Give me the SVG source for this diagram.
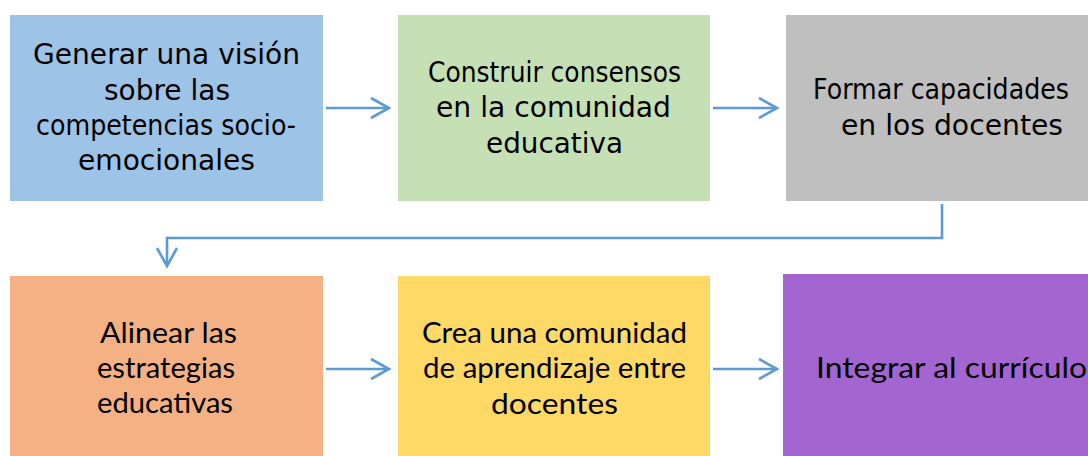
<svg xmlns="http://www.w3.org/2000/svg" width="1088" height="456" viewBox="0 0 1088 456">
<style>
.box{stroke:none}
.t1{font-family:"DejaVu Sans","Noto Sans",sans-serif;font-size:28px;fill:#000;text-anchor:middle}
.t2{font-family:Lato,"Liberation Sans",sans-serif;font-size:29px;fill:#000;text-anchor:middle}
.con{fill:none;stroke:#5B9BD5;stroke-width:2.6}
</style>
<defs>
<marker id="arr" markerUnits="userSpaceOnUse" markerWidth="24" markerHeight="24" viewBox="-20 -12 24 24" refX="0" refY="0" orient="auto" overflow="visible">
<path d="M-18,-10 L0,0 L-18,10" fill="none" stroke="#5B9BD5" stroke-width="2.6"/>
</marker>
</defs>
<rect width="1088" height="456" fill="#fff"/>
<g id="n1">
<rect class="box" x="10" y="15" width="313" height="186" fill="#9DC3E6"/>
<text class="t1"><tspan x="166.5" y="64" textLength="267" lengthAdjust="spacingAndGlyphs">Generar una visión</tspan><tspan x="167" y="100" textLength="126" lengthAdjust="spacingAndGlyphs">sobre las</tspan><tspan x="166" y="135" textLength="260" lengthAdjust="spacingAndGlyphs">competencias socio-</tspan><tspan x="166.5" y="170" textLength="177" lengthAdjust="spacingAndGlyphs">emocionales</tspan></text>
</g>
<g id="n2">
<rect class="box" x="398" y="15" width="312" height="186" fill="#C5E0B4"/>
<text class="t1"><tspan x="554.5" y="82" textLength="253" lengthAdjust="spacingAndGlyphs">Construir consensos</tspan><tspan x="553.5" y="117" textLength="235" lengthAdjust="spacingAndGlyphs">en la comunidad</tspan><tspan x="554.5" y="153" textLength="137" lengthAdjust="spacingAndGlyphs">educativa</tspan></text>
</g>
<g id="n3">
<rect class="box" x="786" y="15" width="302" height="186" fill="#BFBFBF"/>
<text class="t1"><tspan x="941" y="99" textLength="256" lengthAdjust="spacingAndGlyphs">Formar capacidades</tspan><tspan x="952" y="135" textLength="222" lengthAdjust="spacingAndGlyphs">en los docentes</tspan></text>
</g>
<g id="n4">
<rect class="box" x="10" y="276" width="313" height="180" fill="#F4B183"/>
<text class="t2"><tspan x="168.5" y="343" textLength="137" lengthAdjust="spacingAndGlyphs">Alinear las</tspan><tspan x="166" y="378" textLength="138" lengthAdjust="spacingAndGlyphs">estrategias</tspan><tspan x="165" y="413" textLength="136" lengthAdjust="spacingAndGlyphs">educativas</tspan></text>
</g>
<g id="n5">
<rect class="box" x="398" y="276" width="312" height="180" fill="#FFD966"/>
<text class="t2"><tspan x="554.5" y="343" textLength="265" lengthAdjust="spacingAndGlyphs">Crea una comunidad</tspan><tspan x="554.5" y="378" textLength="263" lengthAdjust="spacingAndGlyphs">de aprendizaje entre</tspan><tspan x="554.5" y="414" textLength="127" lengthAdjust="spacingAndGlyphs">docentes</tspan></text>
</g>
<g id="n6">
<rect class="box" x="783" y="274" width="305" height="182" fill="#A366D0"/>
<text class="t2"><tspan x="951.5" y="378" textLength="271" lengthAdjust="spacingAndGlyphs">Integrar al currículo</tspan></text>
</g>
<g id="connectors">
<line class="con" x1="326" y1="108" x2="389" y2="108" marker-end="url(#arr)"/>
<line class="con" x1="713" y1="108" x2="777" y2="108" marker-end="url(#arr)"/>
<polyline class="con" points="942,204 942,238 167,238 167,266" marker-end="url(#arr)"/>
<line class="con" x1="326" y1="369" x2="389" y2="369" marker-end="url(#arr)"/>
<line class="con" x1="713" y1="369" x2="777" y2="369" marker-end="url(#arr)"/>
</g>
</svg>
